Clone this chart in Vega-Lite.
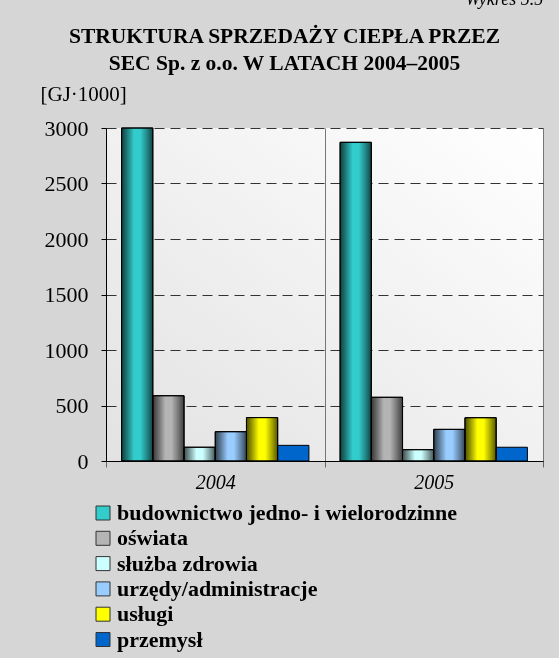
{
  "$schema": "https://vega.github.io/schema/vega-lite/v6.json",
  "autosize": {"type": "none"},
  "padding": {"left": 106, "top": 128, "right": 16, "bottom": 197},
  "width": 437,
  "height": 333,
  "background": "#d6d6d6",
  "title": {
    "text": ["STRUKTURA SPRZEDAŻY CIEPŁA PRZEZ", "SEC Sp. z o.o. W LATACH 2004–2005"],
    "frame": "group",
    "anchor": "middle",
    "dx": -40,
    "offset": -84,
    "font": "Liberation Serif",
    "fontSize": 21.5,
    "fontWeight": "bold",
    "color": "#000000",
    "lineHeight": 27
  },
  "data": {
    "values": [
      {"rok": "2004", "kategoria": "budownictwo jedno- i wielorodzinne", "wartosc": 3000},
      {"rok": "2004", "kategoria": "oświata", "wartosc": 588},
      {"rok": "2004", "kategoria": "służba zdrowia", "wartosc": 124},
      {"rok": "2004", "kategoria": "urzędy/administracje", "wartosc": 264},
      {"rok": "2004", "kategoria": "usługi", "wartosc": 391},
      {"rok": "2004", "kategoria": "przemysł", "wartosc": 141},
      {"rok": "2005", "kategoria": "budownictwo jedno- i wielorodzinne", "wartosc": 2871},
      {"rok": "2005", "kategoria": "oświata", "wartosc": 574},
      {"rok": "2005", "kategoria": "służba zdrowia", "wartosc": 102},
      {"rok": "2005", "kategoria": "urzędy/administracje", "wartosc": 285},
      {"rok": "2005", "kategoria": "usługi", "wartosc": 390},
      {"rok": "2005", "kategoria": "przemysł", "wartosc": 124}
    ]
  },
  "layer": [
    {
      "mark": {"type": "bar", "stroke": "#000000", "strokeWidth": 1},
      "encoding": {
        "x": {
          "field": "rok",
          "type": "nominal",
          "scale": {"paddingInner": 0, "paddingOuter": 0},
          "axis": {
            "title": "Wykres 5.5",
            "titleX": 359,
            "titleY": -457,
            "titleAlign": "left",
            "titleBaseline": "alphabetic",
            "titleFont": "Liberation Serif",
            "titleFontStyle": "italic",
            "titleFontWeight": "normal",
            "titleFontSize": 18,
            "titleColor": "#000000",
            "labelAngle": 0,
            "labelFont": "Liberation Serif",
            "labelFontSize": 20,
            "labelFontStyle": "italic",
            "labelColor": "#000000",
            "labelPadding": 5,
            "tickBand": "extent",
            "grid": true,
            "gridColor": "#777777",
            "gridWidth": 1,
            "domainColor": "#000000",
            "tickColor": "#666666",
            "tickSize": 6
          }
        },
        "xOffset": {
          "field": "kategoria",
          "type": "nominal",
          "sort": ["budownictwo jedno- i wielorodzinne", "oświata", "służba zdrowia", "urzędy/administracje", "usługi", "przemysł"],
          "scale": {"paddingInner": 0, "paddingOuter": 0.5}
        },
        "y": {
          "field": "wartosc",
          "type": "quantitative",
          "scale": {"domain": [0, 3000], "nice": false},
          "axis": {
            "values": [0, 500, 1000, 1500, 2000, 2500, 3000],
            "format": "d",
            "grid": true,
            "gridDash": [10, 6],
            "gridColor": "#333333",
            "gridWidth": 1,
            "domainColor": "#000000",
            "tickColor": "#000000",
            "tickSize": 5,
            "labelFont": "Liberation Serif",
            "labelFontSize": 22,
            "labelColor": "#000000",
            "labelPadding": 13,
            "title": "[GJ·1000]",
            "titleAngle": 0,
            "titleAlign": "left",
            "titleBaseline": "alphabetic",
            "titleX": -66,
            "titleY": -28,
            "titleFont": "Liberation Serif",
            "titleFontSize": 21,
            "titleFontWeight": "normal",
            "titleColor": "#000000"
          }
        },
        "color": {
          "field": "kategoria",
          "type": "nominal",
          "sort": ["budownictwo jedno- i wielorodzinne", "oświata", "służba zdrowia", "urzędy/administracje", "usługi", "przemysł"],
          "scale": {
            "domain": ["budownictwo jedno- i wielorodzinne", "oświata", "służba zdrowia", "urzędy/administracje", "usługi", "przemysł"],
            "range": ["#33cccc", "#b4b4b4", "#ccffff", "#99ccff", "#ffff00", "#0066cc"]
          },
          "legend": {
            "orient": "none",
            "legendX": -14,
            "legendY": 374,
            "title": null,
            "direction": "vertical",
            "padding": 0,
            "symbolType": "square",
            "symbolSize": 196,
            "symbolStrokeColor": "#333333",
            "symbolStrokeWidth": 1,
            "symbolOpacity": 1,
            "labelFont": "Liberation Serif",
            "labelFontSize": 22,
            "labelFontWeight": "bold",
            "labelColor": "#000000",
            "labelOffset": 3,
            "rowPadding": 3.3,
            "labelLimit": 500
          }
        }
      }
    },
    {
      "transform": [{"filter": "datum.kategoria !== 'przemysł'"}],
      "mark": {
        "type": "bar",
        "blend": "multiply",
        "stroke": "#000000",
        "strokeWidth": 1,
        "color": {
          "gradient": "linear",
          "x1": 0, "y1": 0, "x2": 1, "y2": 0,
          "stops": [
            {"offset": 0, "color": "#4d4d4d"},
            {"offset": 0.18, "color": "#9a9a9a"},
            {"offset": 0.4, "color": "#ffffff"},
            {"offset": 0.6, "color": "#ffffff"},
            {"offset": 0.82, "color": "#a6a6a6"},
            {"offset": 1, "color": "#555555"}
          ]
        }
      },
      "encoding": {
        "x": {"field": "rok", "type": "nominal"},
        "xOffset": {
          "field": "kategoria",
          "type": "nominal",
          "sort": ["budownictwo jedno- i wielorodzinne", "oświata", "służba zdrowia", "urzędy/administracje", "usługi", "przemysł"]
        },
        "y": {"field": "wartosc", "type": "quantitative"}
      }
    }
  ],
  "config": {
    "view": {
      "stroke": null,
      "fill": {
        "gradient": "linear",
        "x1": 0, "y1": 1, "x2": 1, "y2": 0,
        "stops": [
          {"offset": 0, "color": "#e2e2e2"},
          {"offset": 1, "color": "#ffffff"}
        ]
      }
    }
  }
}
